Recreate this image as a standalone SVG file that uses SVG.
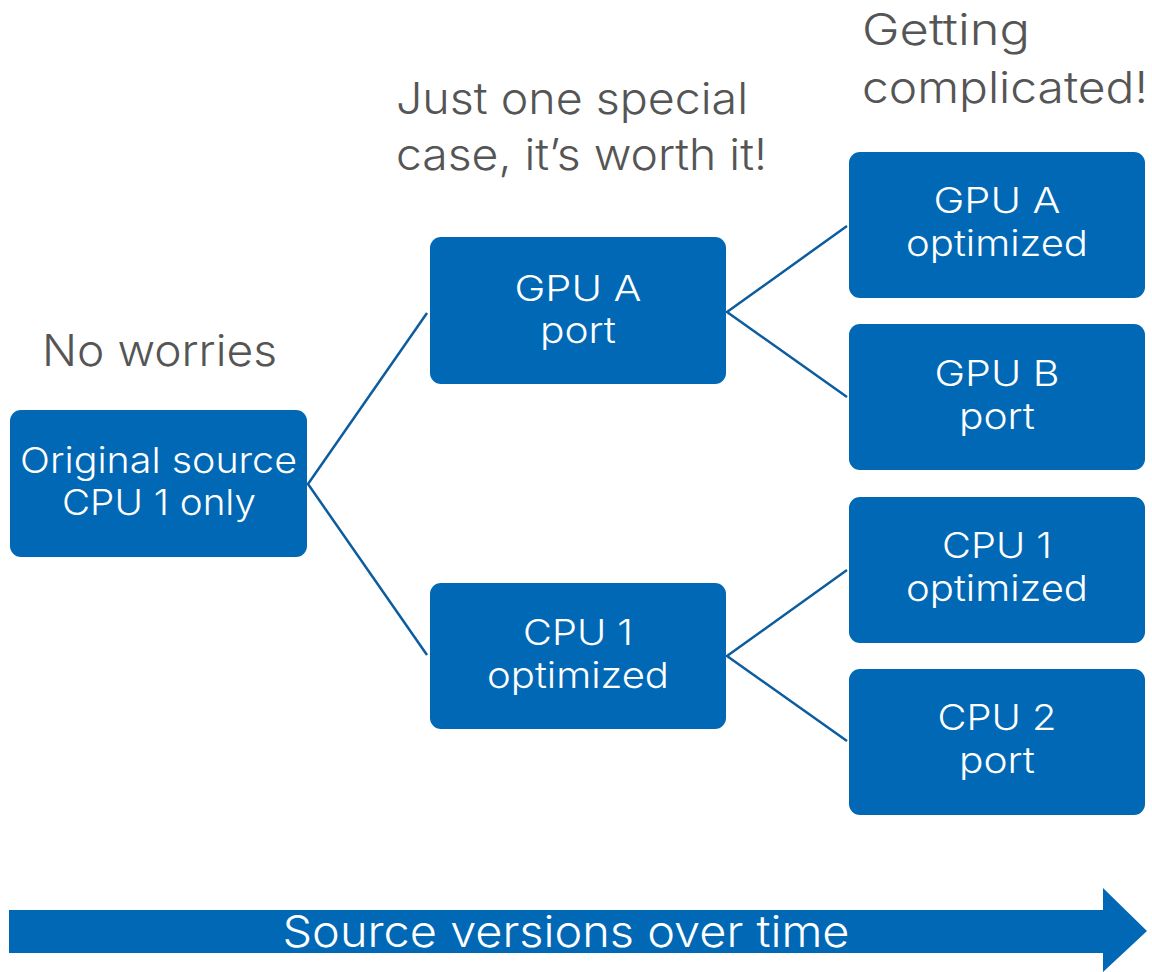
<svg xmlns="http://www.w3.org/2000/svg" width="1152" height="972" viewBox="0 0 1152 972">
<style>
.box{fill:#0068b5}
.nt{fill:#ffffff;font-family:Inter,"Open Sans","Liberation Sans",sans-serif;font-weight:300;font-size:36px;text-anchor:middle}
.hd{fill:#555555;font-family:Inter,"Open Sans","Liberation Sans",sans-serif;font-weight:300;font-size:44px}
.cn{stroke:#0b5d9f;stroke-width:2.5;fill:none}
</style>
<rect width="1152" height="972" fill="#ffffff"/>
<g id="connectors">
<polyline class="cn" points="427,313 308,484 427,655"/>
<polyline class="cn" points="847,226 727,312 847,397"/>
<polyline class="cn" points="847,570 727,656 847,741"/>
</g>
<g id="header-no-worries"><text class="hd" x="42" y="366" textLength="235" lengthAdjust="spacingAndGlyphs">No worries</text></g>
<g id="header-special"><text class="hd" x="396" y="114" textLength="352" lengthAdjust="spacingAndGlyphs">Just one special</text><text class="hd" x="396" y="170" textLength="371" lengthAdjust="spacingAndGlyphs">case, it’s worth it!</text></g>
<g id="header-complicated"><text class="hd" x="862" y="45" textLength="168" lengthAdjust="spacingAndGlyphs">Getting</text><text class="hd" x="862" y="103" textLength="286" lengthAdjust="spacingAndGlyphs">complicated!</text></g>
<g id="node-original"><rect class="box" x="10" y="410" width="297" height="147" rx="11"/><text class="nt" x="158.5" y="473" textLength="277" lengthAdjust="spacingAndGlyphs">Original source</text><text class="nt" x="159" y="515" textLength="194" lengthAdjust="spacingAndGlyphs">CPU 1 only</text></g>
<g id="node-gpua-port"><rect class="box" x="430" y="237" width="296" height="147" rx="11"/><text class="nt" x="578" y="301" textLength="127" lengthAdjust="spacingAndGlyphs">GPU A</text><text class="nt" x="578" y="343" textLength="76" lengthAdjust="spacingAndGlyphs">port</text></g>
<g id="node-cpu1-opt"><rect class="box" x="430" y="583" width="296" height="146" rx="11"/><text class="nt" x="578" y="645" textLength="110" lengthAdjust="spacingAndGlyphs">CPU 1</text><text class="nt" x="578" y="688" textLength="182" lengthAdjust="spacingAndGlyphs">optimized</text></g>
<g id="node-gpua-opt"><rect class="box" x="849" y="152" width="296" height="146" rx="11"/><text class="nt" x="997" y="213" textLength="127" lengthAdjust="spacingAndGlyphs">GPU A</text><text class="nt" x="997" y="256" textLength="182" lengthAdjust="spacingAndGlyphs">optimized</text></g>
<g id="node-gpub-port"><rect class="box" x="849" y="324" width="296" height="146" rx="11"/><text class="nt" x="997" y="386" textLength="125" lengthAdjust="spacingAndGlyphs">GPU B</text><text class="nt" x="997" y="429" textLength="76" lengthAdjust="spacingAndGlyphs">port</text></g>
<g id="node-cpu1-opt2"><rect class="box" x="849" y="497" width="296" height="146" rx="11"/><text class="nt" x="997" y="558" textLength="110" lengthAdjust="spacingAndGlyphs">CPU 1</text><text class="nt" x="997" y="601" textLength="182" lengthAdjust="spacingAndGlyphs">optimized</text></g>
<g id="node-cpu2-port"><rect class="box" x="849" y="669" width="296" height="146" rx="11"/><text class="nt" x="997" y="730" textLength="119" lengthAdjust="spacingAndGlyphs">CPU 2</text><text class="nt" x="997" y="773" textLength="76" lengthAdjust="spacingAndGlyphs">port</text></g>
<g id="time-arrow"><polygon class="box" points="9,910 1103,910 1103,888 1147,931 1103,972 1103,953 9,953"/><text class="nt" x="566" y="947" style="font-size:44px" textLength="567" lengthAdjust="spacingAndGlyphs">Source versions over time</text></g>
</svg>
